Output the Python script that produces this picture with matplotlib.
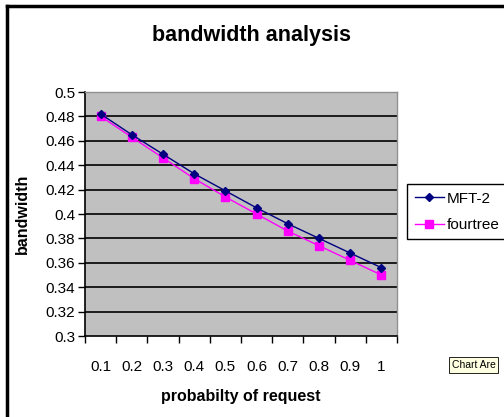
import matplotlib
matplotlib.use("Agg")
import matplotlib.pyplot as plt
from matplotlib.lines import Line2D
import numpy as np

plt.rcParams['font.family'] = ['Liberation Sans', 'DejaVu Sans']

categories = ["0.1", "0.2", "0.3", "0.4", "0.5", "0.6", "0.7", "0.8", "0.9", "1"]
mft2 = [0.482, 0.465, 0.449, 0.433, 0.419, 0.405, 0.392, 0.380, 0.368, 0.356]
fourtree = [0.480, 0.463, 0.446, 0.429, 0.414, 0.400, 0.386, 0.374, 0.362, 0.350]
yticks = [0.3, 0.32, 0.34, 0.36, 0.38, 0.4, 0.42, 0.44, 0.46, 0.48, 0.5]
ytick_labels = ["0.3", "0.32", "0.34", "0.36", "0.38", "0.4", "0.42", "0.44", "0.46", "0.48", "0.5"]

W, H = 504, 417
fig = plt.figure(figsize=(W / 100, H / 100), dpi=100)
fig.patch.set_facecolor('white')

# chart area border (left/top visible)
fig.add_artist(Line2D([7 / W, 7 / W], [0, 1 - 6 / H], transform=fig.transFigure, color='black', lw=2.5))
fig.add_artist(Line2D([7 / W, 1], [1 - 6 / H, 1 - 6 / H], transform=fig.transFigure, color='black', lw=2.5))

left, right, top, bottom = 85, 397, 92, 336
ax = fig.add_axes([left / W, 1 - bottom / H, (right - left) / W, (bottom - top) / H])
ax.set_facecolor('#C0C0C0')

x = np.arange(len(categories))
ax.set_xlim(-0.5, len(categories) - 0.5)
ax.set_ylim(0.3, 0.5)

for yv in yticks[1:-1]:
    ax.axhline(yv, color='black', lw=1.2, zorder=1)

ax.plot(x, mft2, color='#000080', marker='D', markersize=4.5, lw=1, zorder=3, label='MFT-2')
ax.plot(x, fourtree, color='#FF00FF', marker='s', markersize=5.5, lw=1, zorder=2, label='fourtree')

ax.set_yticks(yticks)
ax.set_yticklabels(ytick_labels, fontsize=11)
ax.set_xticks(np.arange(-0.5, len(categories), 1.0), minor=False)
ax.set_xticklabels([])
ax.set_xticks(x, minor=True)
ax.set_xticklabels(categories, minor=True, fontsize=11)
ax.tick_params(axis='x', which='minor', length=0, pad=17)
ax.tick_params(axis='x', which='major', length=5, width=1, direction='out', color='black')
ax.tick_params(axis='y', length=5, width=1, direction='out', pad=2)

for s in ['left', 'bottom']:
    ax.spines[s].set_color('black')
    ax.spines[s].set_linewidth(1.2)
for s in ['top', 'right']:
    ax.spines[s].set_color('#909090')
    ax.spines[s].set_linewidth(1)

fig.text(252 / W, 1 - 35 / H, "bandwidth analysis", ha='center', va='center', fontsize=15.5, fontweight='bold')
fig.text(241 / W, 1 - 397 / H, "probabilty of request", ha='center', va='center', fontsize=11.5, fontweight='bold')
fig.text(22 / W, 1 - 214 / H, "bandwidth", ha='center', va='center', rotation=90, fontsize=11.5, fontweight='bold')

leg = fig.legend(loc='upper left', bbox_to_anchor=(407 / W, 1 - 184 / H), fontsize=11,
                 frameon=True, fancybox=False, edgecolor='black', framealpha=1,
                 handlelength=1.9, handletextpad=0.2, borderpad=0.5, labelspacing=0.8,
                 borderaxespad=0)
leg.get_frame().set_linewidth(1)

# tooltip box
fig.text(452 / W, 1 - 365 / H, "Chart Are", ha='left', va='center', fontsize=7.5,
         bbox=dict(boxstyle='square,pad=0.25', facecolor='#FFFFE1', edgecolor='black', lw=0.6))

fig.savefig("out.png", dpi=100)
